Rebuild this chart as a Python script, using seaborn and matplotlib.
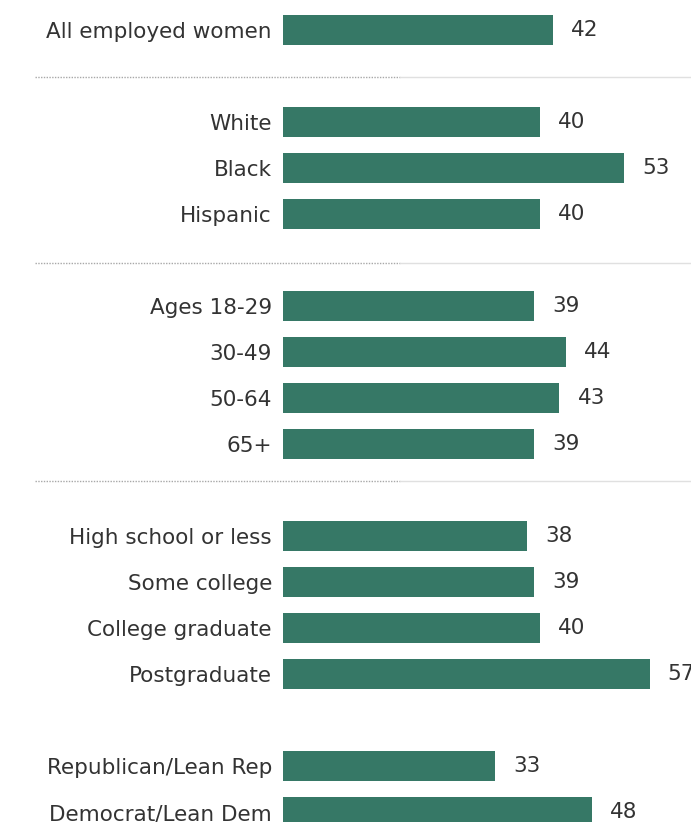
import matplotlib
matplotlib.use("Agg")
import matplotlib.pyplot as plt
import matplotlib.transforms as mtransforms
import seaborn as sns
import numpy as np
import pandas as pd

# ---- data ----
group_overall = ["All employed women"]
vals_overall = [42]
group_race = ["White", "Black", "Hispanic"]
vals_race = [40, 53, 40]
group_age = ["Ages 18-29", "30-49", "50-64", "65+"]
vals_age = [39, 44, 43, 39]
group_edu = ["High school or less", "Some college", "College graduate", "Postgraduate"]
vals_edu = [38, 39, 40, 57]
group_party = ["Republican/Lean Rep", "Democrat/Lean Dem"]
vals_party = [33, 48]

groups = [(group_overall, vals_overall), (group_race, vals_race), (group_age, vals_age),
          (group_edu, vals_edu), (group_party, vals_party)]

labels, values, pos = [], [], []
p = 0
for cats, vs in groups:
    for c, v in zip(cats, vs):
        labels.append(c); values.append(v); pos.append(p); p += 1
    p += 1  # empty slot between groups

df = pd.DataFrame({"label": labels, "value": values, "pos": pos})

# ---- style ----
W, H = 691, 822
BAR = "#367866"
TXT = "#333333"
slot_px = 46.0
top_px = 30.0
left_px = 283.0
px_per_unit = 6.43

sns.set_theme(style="white")
plt.rcParams["font.family"] = ["DejaVu Sans"]

fig = plt.figure(figsize=(W / 100, H / 100), dpi=100)
fig.patch.set_facecolor("white")
ax = fig.add_axes([left_px / W, 0, 1 - left_px / W, 1])

sns.barplot(data=df, x="value", y="pos", orient="h", native_scale=True,
            color=BAR, saturation=1, width=0.65, ax=ax, errorbar=None)
for patch in ax.patches:
    patch.set_edgecolor("none")

ax.set_xlim(0, (W - left_px) / px_per_unit)
ax.set_ylim((H - top_px) / slot_px, -top_px / slot_px)

ax.set_yticks(df["pos"])
ax.set_yticklabels(df["label"], fontsize=15.5, color=TXT)
ax.tick_params(axis="y", length=0, pad=8)
ax.set_xticks([])
ax.set_xlabel(""); ax.set_ylabel("")
for s in ax.spines.values():
    s.set_visible(False)

for cont in ax.containers:
    ax.bar_label(cont, labels=[f"{v:.0f}" for v in cont.datavalues],
                 padding=13, fontsize=15.5, color=TXT)

# separators
trans = mtransforms.blended_transform_factory(fig.transFigure, ax.transData)
for yv in [(77 - top_px) / slot_px, (263 - top_px) / slot_px, (481 - top_px) / slot_px]:
    ax.plot([35 / W, 400 / W], [yv, yv], transform=trans, color="#a8a8a8",
            lw=1.0, ls=(0, (1, 1)), clip_on=False)
    ax.plot([400 / W, 1.0], [yv, yv], transform=trans, color="#e0e0e0",
            lw=1.0, clip_on=False)

fig.savefig("out.png", dpi=100, facecolor="white")
